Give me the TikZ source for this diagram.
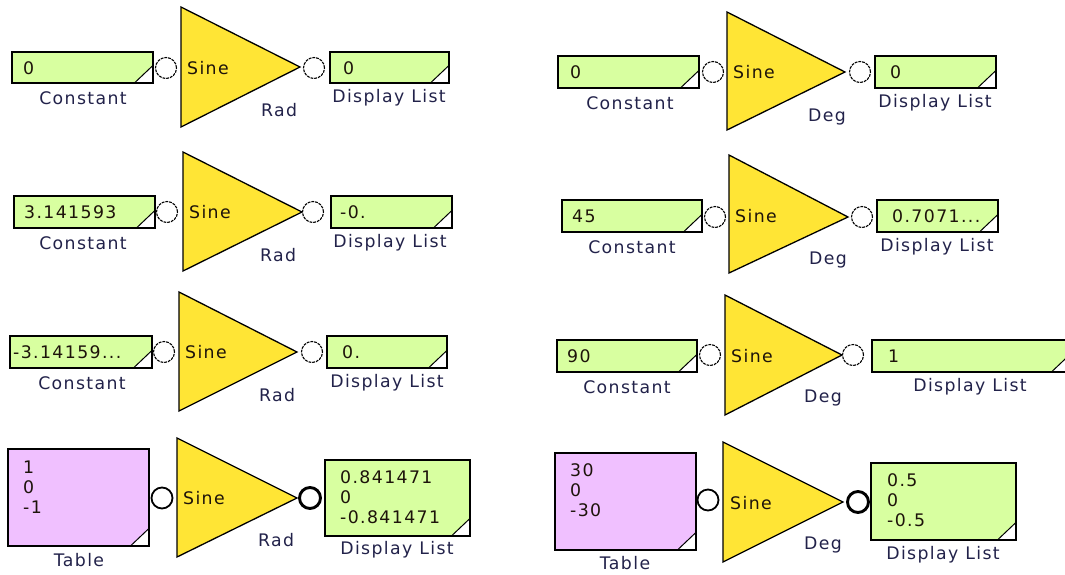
\documentclass[tikz,border=0pt]{standalone}
\usepackage{fontspec}
\setmainfont{DejaVu Sans}[LetterSpace=8]
\definecolor{boxgreen}{HTML}{D8FFA0}
\definecolor{boxpink}{HTML}{F0C0FF}
\definecolor{triyellow}{HTML}{FFE535}
\definecolor{labcol}{HTML}{22224A}
\tikzset{
  blkfill/.style={rectangle, inner sep=0pt, anchor=center},
  blkline/.style={draw=black, line width=1.6pt},
  tri/.style={draw=black, line width=1.3pt, fill=triyellow, line join=miter},
  portopen/.style={circle, draw=black, fill=white, minimum size=21pt, inner sep=0pt, line width=1.1pt, dash pattern=on 2.8pt off 1pt},
  portin/.style={circle, draw=black, fill=white, minimum size=21pt, inner sep=0pt, line width=1.8pt},
  portout/.style={circle, draw=black, fill=white, minimum size=21pt, inner sep=0pt, line width=2.9pt},
  val/.style={inner sep=0pt, anchor=west, font=\fontsize{17.3pt}{19.8pt}\selectfont, text=black!85!brown},
  lab/.style={inner sep=0pt, anchor=center, font=\fontsize{17.3pt}{19.8pt}\selectfont, text=labcol},
}
% #1 name, #2 x1, #3 y1, #4 x2, #5 y2, #6 fill colour
\newcommand{\valbox}[6]{%
  \node[blkfill, fill=#6, minimum width={#4-#2}, minimum height={#5-#3}] (#1) at ({(#2+#4)/2},{(#3+#5)/2}) {};
  \fill[white] (#1.south east) -- ++(-19pt,0pt) -- ++(19pt,18pt) -- cycle;
  \draw[line width=1pt] (#1.south east) ++(-19pt,0pt) -- ++(19pt,18pt);
  \draw[blkline] (#1.north west) rectangle (#1.south east);}
% #1 name, #2 left x, #3 top y, #4 bottom y, #5 tip x, #6 tip y
\newcommand{\sinetri}[6]{%
  \coordinate (#1-t) at (#2,#3);
  \coordinate (#1-b) at (#2,#4);
  \coordinate (#1-p) at (#5,#6);
  \draw[tri] (#1-t) -- (#1-p) -- (#1-b) -- cycle;}
\begin{document}
\begin{tikzpicture}[x=1pt,y=-1pt]
\useasboundingbox (0,0) rectangle (1065,574);

% ================= LEFT COLUMN =================
% Row 1
\valbox{c1}{12}{52}{153}{83}{boxgreen}
\node[val] (c1v) at (23,68) {0};
\node[lab] (c1l) at (83,98) {Constant};
\sinetri{s1}{181}{7}{127}{300}{67}
\node[val] (s1n) at (187,68) {Sine};
\node[lab] (s1m) at (279,110) {Rad};
\node[portopen] (pi1) at (166,68) {};
\node[portopen] (po1) at (314,68) {};
\valbox{d1}{330}{52}{449}{83}{boxgreen}
\node[val] (d1v) at (343,68) {0};
\node[lab] (d1l) at (389,98) {Display List};

% Row 2
\valbox{c2}{14}{196}{155}{228}{boxgreen}
\node[val] (c2v) at (24,212) {3.141593};
\node[lab] (c2l) at (83,243) {Constant};
\sinetri{s2}{183}{152}{271}{302}{212}
\node[val] (s2n) at (189,212) {Sine};
\node[lab] (s2m) at (278,255) {Rad};
\node[portopen] (pi2) at (167,212) {};
\node[portopen] (po2) at (313,212) {};
\valbox{d2}{331}{196}{452}{228}{boxgreen}
\node[val] (d2v) at (340,212) {-0.};
\node[lab] (d2l) at (390,243) {Display List};

% Row 3
\valbox{c3}{10}{336}{152}{368}{boxgreen}
\node[val] (c3v) at (13,352) {-3.14159...};
\node[lab] (c3l) at (82,383) {Constant};
\sinetri{s3}{179}{292}{411}{297}{352}
\node[val] (s3n) at (185,352) {Sine};
\node[lab] (s3m) at (277,395) {Rad};
\node[portopen] (pi3) at (164,352) {};
\node[portopen] (po3) at (312,352) {};
\valbox{d3}{327}{336}{447}{368}{boxgreen}
\node[val] (d3v) at (342,352) {0.};
\node[lab] (d3l) at (387,383) {Display List};

% Row 4
\valbox{t4}{8}{449}{149}{546}{boxpink}
\node[val, align=left] (t4v) at (23,487) {1\\0\\-1};
\node[lab] (t4l) at (79,560) {Table};
\sinetri{s4}{177}{438}{557}{297}{498}
\node[val] (s4n) at (183,498) {Sine};
\node[lab] (s4m) at (276,540) {Rad};
\node[portin] (pi4) at (162,498) {};
\node[portout] (po4) at (310,498) {};
\valbox{d4}{325}{460}{470}{536}{boxgreen}
\node[val, align=left] (d4v) at (340,497) {0.841471\\0\\-0.841471};
\node[lab] (d4l) at (397,550) {Display List};

% ================= RIGHT COLUMN =================
% Row 1
\valbox{c5}{558}{56}{699}{88}{boxgreen}
\node[val] (c5v) at (570,72) {0};
\node[lab] (c5l) at (630,103) {Constant};
\sinetri{s5}{727}{12}{130}{845}{72}
\node[val] (s5n) at (733,72) {Sine};
\node[lab] (s5m) at (827,117) {Deg};
\node[portopen] (pi5) at (713,72) {};
\node[portopen] (po5) at (860,72) {};
\valbox{d5}{875}{56}{996}{88}{boxgreen}
\node[val] (d5v) at (890,72) {0};
\node[lab] (d5l) at (935,103) {Display List};

% Row 2
\valbox{c6}{562}{200}{702}{232}{boxgreen}
\node[val] (c6v) at (572,216) {45};
\node[lab] (c6l) at (632,247) {Constant};
\sinetri{s6}{729}{155}{273}{848}{217}
\node[val] (s6n) at (735,216) {Sine};
\node[lab] (s6m) at (828,260) {Deg};
\node[portopen] (pi6) at (715,217) {};
\node[portopen] (po6) at (862,217) {};
\valbox{d6}{877}{200}{998}{232}{boxgreen}
\node[val] (d6v) at (892,216) {0.7071...};
\node[lab] (d6l) at (937,247) {Display List};

% Row 3
\valbox{c7}{557}{340}{697}{372}{boxgreen}
\node[val] (c7v) at (567,356) {90};
\node[lab] (c7l) at (627,387) {Constant};
\sinetri{s7}{725}{295}{415}{842}{355}
\node[val] (s7n) at (731,356) {Sine};
\node[lab] (s7m) at (823,398) {Deg};
\node[portopen] (pi7) at (710,355) {};
\node[portopen] (po7) at (853,355) {};
\valbox{d7}{872}{340}{1070}{372}{boxgreen}
\node[val] (d7v) at (888,356) {1};
\node[lab] (d7l) at (970,387) {Display List};

% Row 4
\valbox{t8}{555}{453}{696}{550}{boxpink}
\node[val, align=left] (t8v) at (570,490) {30\\0\\-30};
\node[lab] (t8l) at (625,563) {Table};
\sinetri{s8}{723}{442}{562}{843}{502}
\node[val] (s8n) at (730,503) {Sine};
\node[lab] (s8m) at (823,545) {Deg};
\node[portin] (pi8) at (708,500) {};
\node[portout] (po8) at (858,502) {};
\valbox{d8}{871}{463}{1016}{540}{boxgreen}
\node[val, align=left] (d8v) at (887,500) {0.5\\0\\-0.5};
\node[lab] (d8l) at (943,555) {Display List};
\end{tikzpicture}
\end{document}
